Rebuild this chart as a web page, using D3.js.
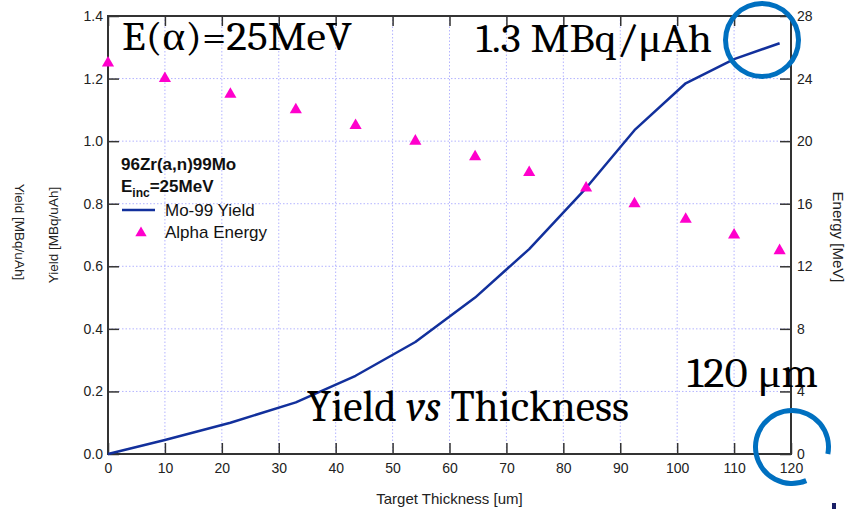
<!DOCTYPE html>
<html>
<head>
<meta charset="utf-8">
<script src="https://cdn.jsdelivr.net/npm/d3@7"></script>
<style>
  body { margin: 0; background: #fff; }
  svg { display: block; }
</style>
</head>
<body>
<div id="chart"></div>
<script>
// target thickness [um] at each calculation step
const thickness = [0, 10, 21.5, 33, 43.5, 54, 64.5, 74, 84, 92.5, 101.5, 110, 118];
// Mo-99 yield [MBq/uAh]
const yieldValues = [0, 0.045, 0.10, 0.165, 0.25, 0.358, 0.50, 0.655, 0.85, 1.035, 1.185, 1.262, 1.313];
// alpha energy [MeV]
const energyValues = [25, 24, 23, 22, 21, 20, 19, 18, 17, 16, 15, 14, 13];

const xTicks = [0, 10, 20, 30, 40, 50, 60, 70, 80, 90, 100, 110, 120];
const yieldTicks = [0, 0.2, 0.4, 0.6, 0.8, 1.0, 1.2, 1.4];
const energyTicks = [0, 4, 8, 12, 16, 20, 24, 28];

const width = 848, height = 509;
const margin = { top: 16, right: 57, bottom: 55, left: 108 };
const visWidth = width - margin.left - margin.right;
const visHeight = height - margin.top - margin.bottom;

const lineColor = '#12309c';
const markColor = '#ff00cc';
const frameColor = '#333';
const gridColor = '#b4b4ff';
const sans = 'Arial, "Liberation Sans", sans-serif';
const serif = 'Cambria, "Liberation Serif", serif';

const x = d3.scaleLinear().domain([0, 120]).range([0, visWidth]);
const yL = d3.scaleLinear().domain([0, 1.4]).range([visHeight, 0]);
const yR = d3.scaleLinear().domain([0, 28]).range([visHeight, 0]);

const svg = d3.select('#chart').append('svg')
    .attr('width', width)
    .attr('height', height);

const g = svg.append('g')
    .attr('transform', `translate(${margin.left}, ${margin.top})`);

// dotted grid
g.append('g').selectAll('line')
    .data(xTicks.slice(1, -1))
    .join('line')
    .attr('x1', d => x(d)).attr('x2', d => x(d))
    .attr('y1', 0).attr('y2', visHeight)
    .attr('stroke', gridColor)
    .attr('stroke-dasharray', '1.5,2');
g.append('g').selectAll('line')
    .data(yieldTicks.slice(1, -1))
    .join('line')
    .attr('x1', 0).attr('x2', visWidth)
    .attr('y1', d => yL(d)).attr('y2', d => yL(d))
    .attr('stroke', gridColor)
    .attr('stroke-dasharray', '1.5,2');

// axes, ticks pointing inward
function styleAxis(a) {
    a.call(s => s.select('.domain').remove());
    a.selectAll('.tick line').attr('stroke', frameColor).attr('stroke-width', 1.5);
    a.selectAll('.tick text').attr('fill', '#222')
        .style('font-family', sans).style('font-size', '14px');
}

g.append('g')
    .attr('transform', `translate(0, ${visHeight})`)
    .call(d3.axisBottom(x).tickValues(xTicks).tickSize(-11).tickPadding(9))
    .call(styleAxis);

g.append('g')
    .call(d3.axisTop(x).tickValues(xTicks).tickSize(-10).tickFormat(''))
    .call(styleAxis);

g.append('g')
    .call(d3.axisLeft(yL).tickValues(yieldTicks).tickSize(-11).tickPadding(5).tickFormat(d3.format('.1f')))
    .call(styleAxis);

g.append('g')
    .attr('transform', `translate(${visWidth}, 0)`)
    .call(d3.axisRight(yR).tickValues(energyTicks).tickSize(-11).tickPadding(6))
    .call(styleAxis);

// frame
g.append('rect')
    .attr('width', visWidth)
    .attr('height', visHeight)
    .attr('fill', 'none')
    .attr('stroke', frameColor)
    .attr('stroke-width', 2);

// axis titles
svg.append('text')
    .attr('x', margin.left + x(60))
    .attr('y', 504)
    .attr('text-anchor', 'middle')
    .style('font-family', sans).style('font-size', '15px').attr('fill', '#222')
    .text('Target Thickness [um]');

svg.append('text')
    .attr('transform', `translate(58, 235) rotate(-90)`)
    .attr('text-anchor', 'middle')
    .style('font-family', sans).style('font-size', '13.5px').attr('fill', '#222')
    .text('Yield [MBq/uAh]');

svg.append('text')
    .attr('transform', `translate(15, 232) rotate(90)`)
    .attr('text-anchor', 'middle')
    .style('font-family', sans).style('font-size', '13.5px').attr('fill', '#222')
    .text('Yield [MBq/uAh]');

svg.append('text')
    .attr('transform', `translate(833, 237) rotate(90)`)
    .attr('text-anchor', 'middle')
    .style('font-family', sans).style('font-size', '15px').attr('fill', '#222')
    .text('Energy [MeV]');

// yield curve
const data = thickness.map((t, i) => ({ t, yield: yieldValues[i], energy: energyValues[i] }));

g.append('path')
    .datum(data)
    .attr('fill', 'none')
    .attr('stroke', lineColor)
    .attr('stroke-width', 2.5)
    .attr('stroke-linejoin', 'round')
    .attr('d', d3.line().x(d => x(d.t)).y(d => yL(d.yield)));

// alpha energy points
const tri = d3.symbol(d3.symbolTriangle, 64);
g.append('g').selectAll('path')
    .data(data)
    .join('path')
    .attr('transform', d => `translate(${x(d.t)}, ${yR(d.energy)})`)
    .attr('d', tri)
    .attr('fill', markColor);

// legend
const legend = svg.append('g').style('font-family', sans).attr('fill', '#111');
legend.append('text').attr('x', 121).attr('y', 170)
    .style('font-size', '17px').style('font-weight', 'bold')
    .text('96Zr(a,n)99Mo');
const einc = legend.append('text').attr('x', 121).attr('y', 192)
    .style('font-size', '17px').style('font-weight', 'bold');
einc.append('tspan').text('E');
einc.append('tspan').attr('dy', 5).style('font-size', '12px').text('inc');
einc.append('tspan').attr('dy', -5).text('=25MeV');
legend.append('line')
    .attr('x1', 122).attr('x2', 155).attr('y1', 210).attr('y2', 210)
    .attr('stroke', lineColor).attr('stroke-width', 2.5);
legend.append('text').attr('x', 165).attr('y', 216)
    .style('font-size', '17px').text('Mo-99 Yield');
legend.append('path')
    .attr('transform', 'translate(141, 233)')
    .attr('d', d3.symbol(d3.symbolTriangle, 56))
    .attr('fill', markColor);
legend.append('text').attr('x', 165).attr('y', 238)
    .style('font-size', '17px').text('Alpha Energy');

// slide annotations
const note = svg.append('g').style('font-family', serif).attr('fill', '#000');
note.append('text').attr('x', 122).attr('y', 50)
    .style('font-size', '40px')
    .attr('textLength', 230).attr('lengthAdjust', 'spacingAndGlyphs')
    .text('E(α)=25MeV');
note.append('text').attr('x', 476).attr('y', 52)
    .style('font-size', '40px')
    .attr('textLength', 236).attr('lengthAdjust', 'spacingAndGlyphs')
    .text('1.3 MBq/μAh');
note.append('text').attr('x', 687).attr('y', 387)
    .style('font-size', '42px')
    .attr('textLength', 131).attr('lengthAdjust', 'spacingAndGlyphs')
    .text('120 μm');
const yvt = note.append('text').attr('x', 307).attr('y', 421)
    .style('font-size', '43px')
    .attr('textLength', 322).attr('lengthAdjust', 'spacingAndGlyphs');
yvt.append('tspan').text('Yield ');
yvt.append('tspan').style('font-style', 'italic').text('vs');
yvt.append('tspan').text(' Thickness');

// highlight circles
const ring = d3.arc().innerRadius(34).outerRadius(39);
svg.append('path')
    .attr('transform', 'translate(762, 40)')
    .attr('d', ring({ startAngle: 0, endAngle: 2 * Math.PI }))
    .attr('fill', '#0070c0');
svg.append('path')
    .attr('transform', 'translate(792, 447)')
    .attr('d', ring({ startAngle: 157 * Math.PI / 180, endAngle: 461 * Math.PI / 180 }))
    .attr('fill', '#0070c0');
svg.append('rect')
    .attr('x', 832).attr('y', 503).attr('width', 4).attr('height', 6)
    .attr('fill', '#1a1f66');
</script>
</body>
</html>
